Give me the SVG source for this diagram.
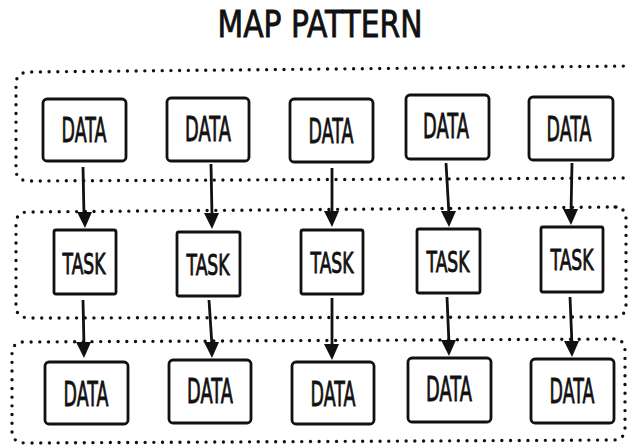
<svg xmlns="http://www.w3.org/2000/svg" width="629" height="448" viewBox="0 0 629 448">
<defs>
<style>
.grp{fill:none;stroke:#111;stroke-width:3.4;stroke-linecap:round;stroke-dasharray:0 8.7}
.box{fill:#fff;stroke:#111;stroke-width:2.8}
.lbl{font-family:"DejaVu Sans",sans-serif;fill:#111;text-anchor:middle;stroke:#111;stroke-width:0.9}
.ar{fill:none;stroke:#111;stroke-width:2.8}
.hd{fill:#111}
</style>
</defs>
<rect width="629" height="448" fill="#fff"/>
<text class="lbl" x="320" y="37" style="font-size:38px" textLength="205" lengthAdjust="spacingAndGlyphs">MAP PATTERN</text>
<g id="groups">
<path class="grp" d="M632,66 L28,72 Q16,73 16,84 L16,170 Q16,181 30,181 L632,178"/>
<path class="grp" d="M616,207 L28,212 Q16,212 16,224 L16,306 Q16,318 30,318 L614,317 Q626,317 626,305 L626,219 Q626,207 614,207"/>
<path class="grp" d="M614,339 L24,342 Q12,342 12,354 L12,431 Q12,443 26,443 L613,440 Q625,440 625,428 L625,351 Q625,339 613,339"/>
</g>
<g id="connectors">
<path class="ar" d="M83,167 L84,216"/><path class="hd" d="M77,212 L92,212 L85,228 Z"/>
<path class="ar" d="M211,164 L212,216"/><path class="hd" d="M204,213 L219,213 L212,229 Z"/>
<path class="ar" d="M332,168 L332,215"/><path class="hd" d="M324,211 L339,211 L332,227 Z"/>
<path class="ar" d="M446,163 L449,215"/><path class="hd" d="M441,211 L456,211 L449,227 Z"/>
<path class="ar" d="M572,163 L571,213"/><path class="hd" d="M563,209 L578,209 L571,225 Z"/>
<path class="ar" d="M83,300 L84,346"/><path class="hd" d="M76,342 L91,342 L84,358 Z"/>
<path class="ar" d="M209,300 L212,346"/><path class="hd" d="M204,342 L219,342 L212,358 Z"/>
<path class="ar" d="M332,298 L332,348"/><path class="hd" d="M324,344 L339,344 L332,360 Z"/>
<path class="ar" d="M447,297 L449,344"/><path class="hd" d="M441,340 L456,340 L449,356 Z"/>
<path class="ar" d="M570,297 L572,345"/><path class="hd" d="M564,341 L579,341 L572,357 Z"/>
</g>
<g id="data1"><rect class="box" x="43" y="99" width="83" height="62" rx="4"/><text class="lbl" style="font-size:33px" x="84" y="142" textLength="45" lengthAdjust="spacingAndGlyphs">DATA</text></g>
<g id="data2"><rect class="box" x="167" y="98" width="82" height="63" rx="4"/><text class="lbl" style="font-size:33px" x="208" y="141" textLength="46" lengthAdjust="spacingAndGlyphs">DATA</text></g>
<g id="data3"><rect class="box" x="290" y="99" width="83" height="63" rx="4"/><text class="lbl" style="font-size:33px" x="331" y="143" textLength="45" lengthAdjust="spacingAndGlyphs">DATA</text></g>
<g id="data4"><rect class="box" x="406" y="95" width="83" height="64" rx="4"/><text class="lbl" style="font-size:33px" x="446" y="138" textLength="46" lengthAdjust="spacingAndGlyphs">DATA</text></g>
<g id="data5"><rect class="box" x="529" y="97" width="84" height="63" rx="4"/><text class="lbl" style="font-size:33px" x="569" y="141" textLength="45" lengthAdjust="spacingAndGlyphs">DATA</text></g>
<g id="task1"><rect class="box" x="54" y="230" width="62" height="64" rx="2"/><text class="lbl" style="font-size:28px" x="84" y="274" textLength="43" lengthAdjust="spacingAndGlyphs">TASK</text></g>
<g id="task2"><rect class="box" x="177" y="232" width="63" height="64" rx="2"/><text class="lbl" style="font-size:28px" x="208" y="275" textLength="43" lengthAdjust="spacingAndGlyphs">TASK</text></g>
<g id="task3"><rect class="box" x="301" y="230" width="62" height="64" rx="2"/><text class="lbl" style="font-size:28px" x="332" y="273" textLength="43" lengthAdjust="spacingAndGlyphs">TASK</text></g>
<g id="task4"><rect class="box" x="417" y="229" width="63" height="64" rx="2"/><text class="lbl" style="font-size:28px" x="448" y="272" textLength="43" lengthAdjust="spacingAndGlyphs">TASK</text></g>
<g id="task5"><rect class="box" x="541" y="227" width="62" height="65" rx="2"/><text class="lbl" style="font-size:28px" x="572" y="270" textLength="43" lengthAdjust="spacingAndGlyphs">TASK</text></g>
<g id="data6"><rect class="box" x="45" y="362" width="83" height="62" rx="4"/><text class="lbl" style="font-size:33px" x="86" y="406" textLength="45" lengthAdjust="spacingAndGlyphs">DATA</text></g>
<g id="data7"><rect class="box" x="169" y="360" width="82" height="63" rx="4"/><text class="lbl" style="font-size:33px" x="210" y="403" textLength="46" lengthAdjust="spacingAndGlyphs">DATA</text></g>
<g id="data8"><rect class="box" x="292" y="362" width="82" height="62" rx="4"/><text class="lbl" style="font-size:33px" x="333" y="406" textLength="45" lengthAdjust="spacingAndGlyphs">DATA</text></g>
<g id="data9"><rect class="box" x="408" y="358" width="83" height="64" rx="4"/><text class="lbl" style="font-size:33px" x="449" y="401" textLength="46" lengthAdjust="spacingAndGlyphs">DATA</text></g>
<g id="data10"><rect class="box" x="531" y="359" width="83" height="64" rx="4"/><text class="lbl" style="font-size:33px" x="572" y="403" textLength="45" lengthAdjust="spacingAndGlyphs">DATA</text></g>
</svg>
